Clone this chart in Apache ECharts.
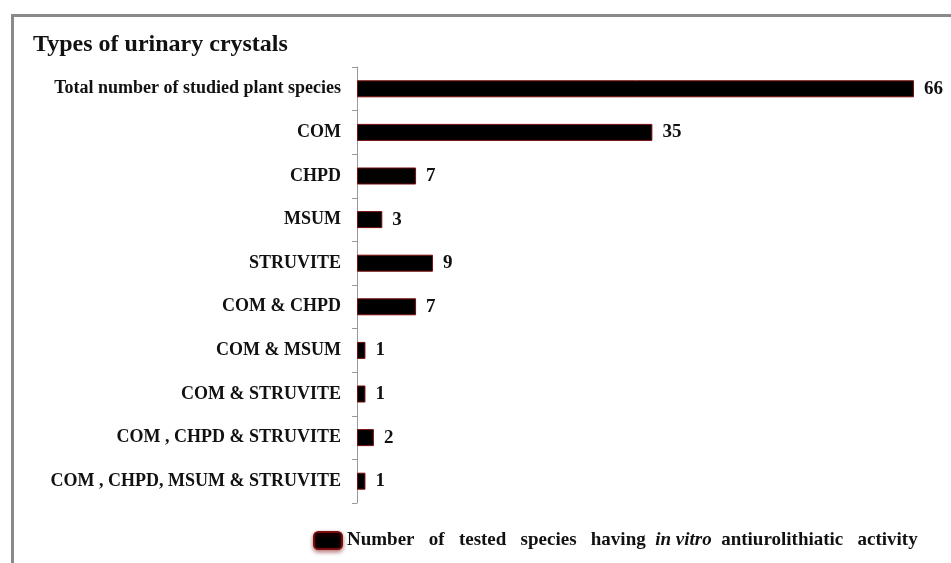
<!DOCTYPE html>
<html>
<head>
<meta charset="utf-8">
<script src="https://cdn.jsdelivr.net/npm/echarts@6/dist/echarts.min.js"></script>
<style>
html,body{margin:0;padding:0;background:#fff;}
#chart{width:951px;height:563px;}
</style>
</head>
<body>
<div id="chart"></div>
<script>
const categories = [
  'Total number of studied plant species',
  'COM',
  'CHPD',
  'MSUM',
  'STRUVITE',
  'COM & CHPD',
  'COM & MSUM',
  'COM & STRUVITE',
  'COM , CHPD & STRUVITE',
  'COM , CHPD, MSUM & STRUVITE'
];
const values = [66, 35, 7, 3, 9, 7, 1, 1, 2, 1];
const seriesName = 'Number of tested species having in vitro antiurolithiatic activity';
const titleText = 'Types of urinary crystals';

const serif = '"Liberation Serif", "DejaVu Serif", serif';
const chart = echarts.init(document.getElementById('chart'));
chart.setOption({
  backgroundColor: '#fff',
  animation: false,
  title: {
    text: titleText,
    left: 28,
    top: 28,
    textStyle: { fontFamily: serif, fontWeight: 'bold', fontSize: 24, color: '#111' }
  },
  graphic: [{
    type: 'rect',
    left: 10,
    top: 13,
    shape: { width: 1000, height: 700 },
    style: { fill: 'none', stroke: '#8a8a8a', lineWidth: 3 },
    z: 100
  }],
  legend: {
    left: 308,
    top: 526,
    itemWidth: 28,
    itemHeight: 17,
    itemGap: 10,
    icon: 'roundRect',
    itemStyle: { shadowBlur: 4, shadowColor: 'rgba(120,0,0,0.5)', shadowOffsetY: 2 },
    formatter: function () {
      return '{a|Number   of   tested   species   having  }{i|in vitro}{a|  antiurolithiatic   activity}';
    },
    textStyle: {
      fontFamily: serif, fontWeight: 'bold', fontSize: 19, color: '#111',
      rich: {
        a: { fontFamily: serif, fontWeight: 'bold', fontSize: 19, color: '#111' },
        i: { fontFamily: serif, fontWeight: 'bold', fontStyle: 'italic', fontSize: 19, color: '#111' }
      }
    }
  },
  grid: { left: 357, top: 67, width: 557, height: 436 },
  xAxis: {
    type: 'value',
    min: 0,
    max: 66,
    show: false,
    splitLine: { show: false }
  },
  yAxis: {
    type: 'category',
    data: categories,
    inverse: true,
    axisLine: { show: true, lineStyle: { color: '#999', width: 1 } },
    axisTick: { show: true, length: 5, lineStyle: { color: '#999' } },
    axisLabel: {
      margin: 16,
      fontFamily: serif, fontWeight: 'bold', fontSize: 18, color: '#111'
    }
  },
  series: [{
    name: seriesName,
    type: 'bar',
    data: values,
    barWidth: 17,
    itemStyle: { color: '#000', borderColor: '#7a0c0c', borderWidth: 1 },
    label: {
      show: true,
      position: 'right',
      distance: 10,
      fontFamily: serif, fontWeight: 'bold', fontSize: 19, color: '#111'
    }
  }]
});
</script>
</body>
</html>
